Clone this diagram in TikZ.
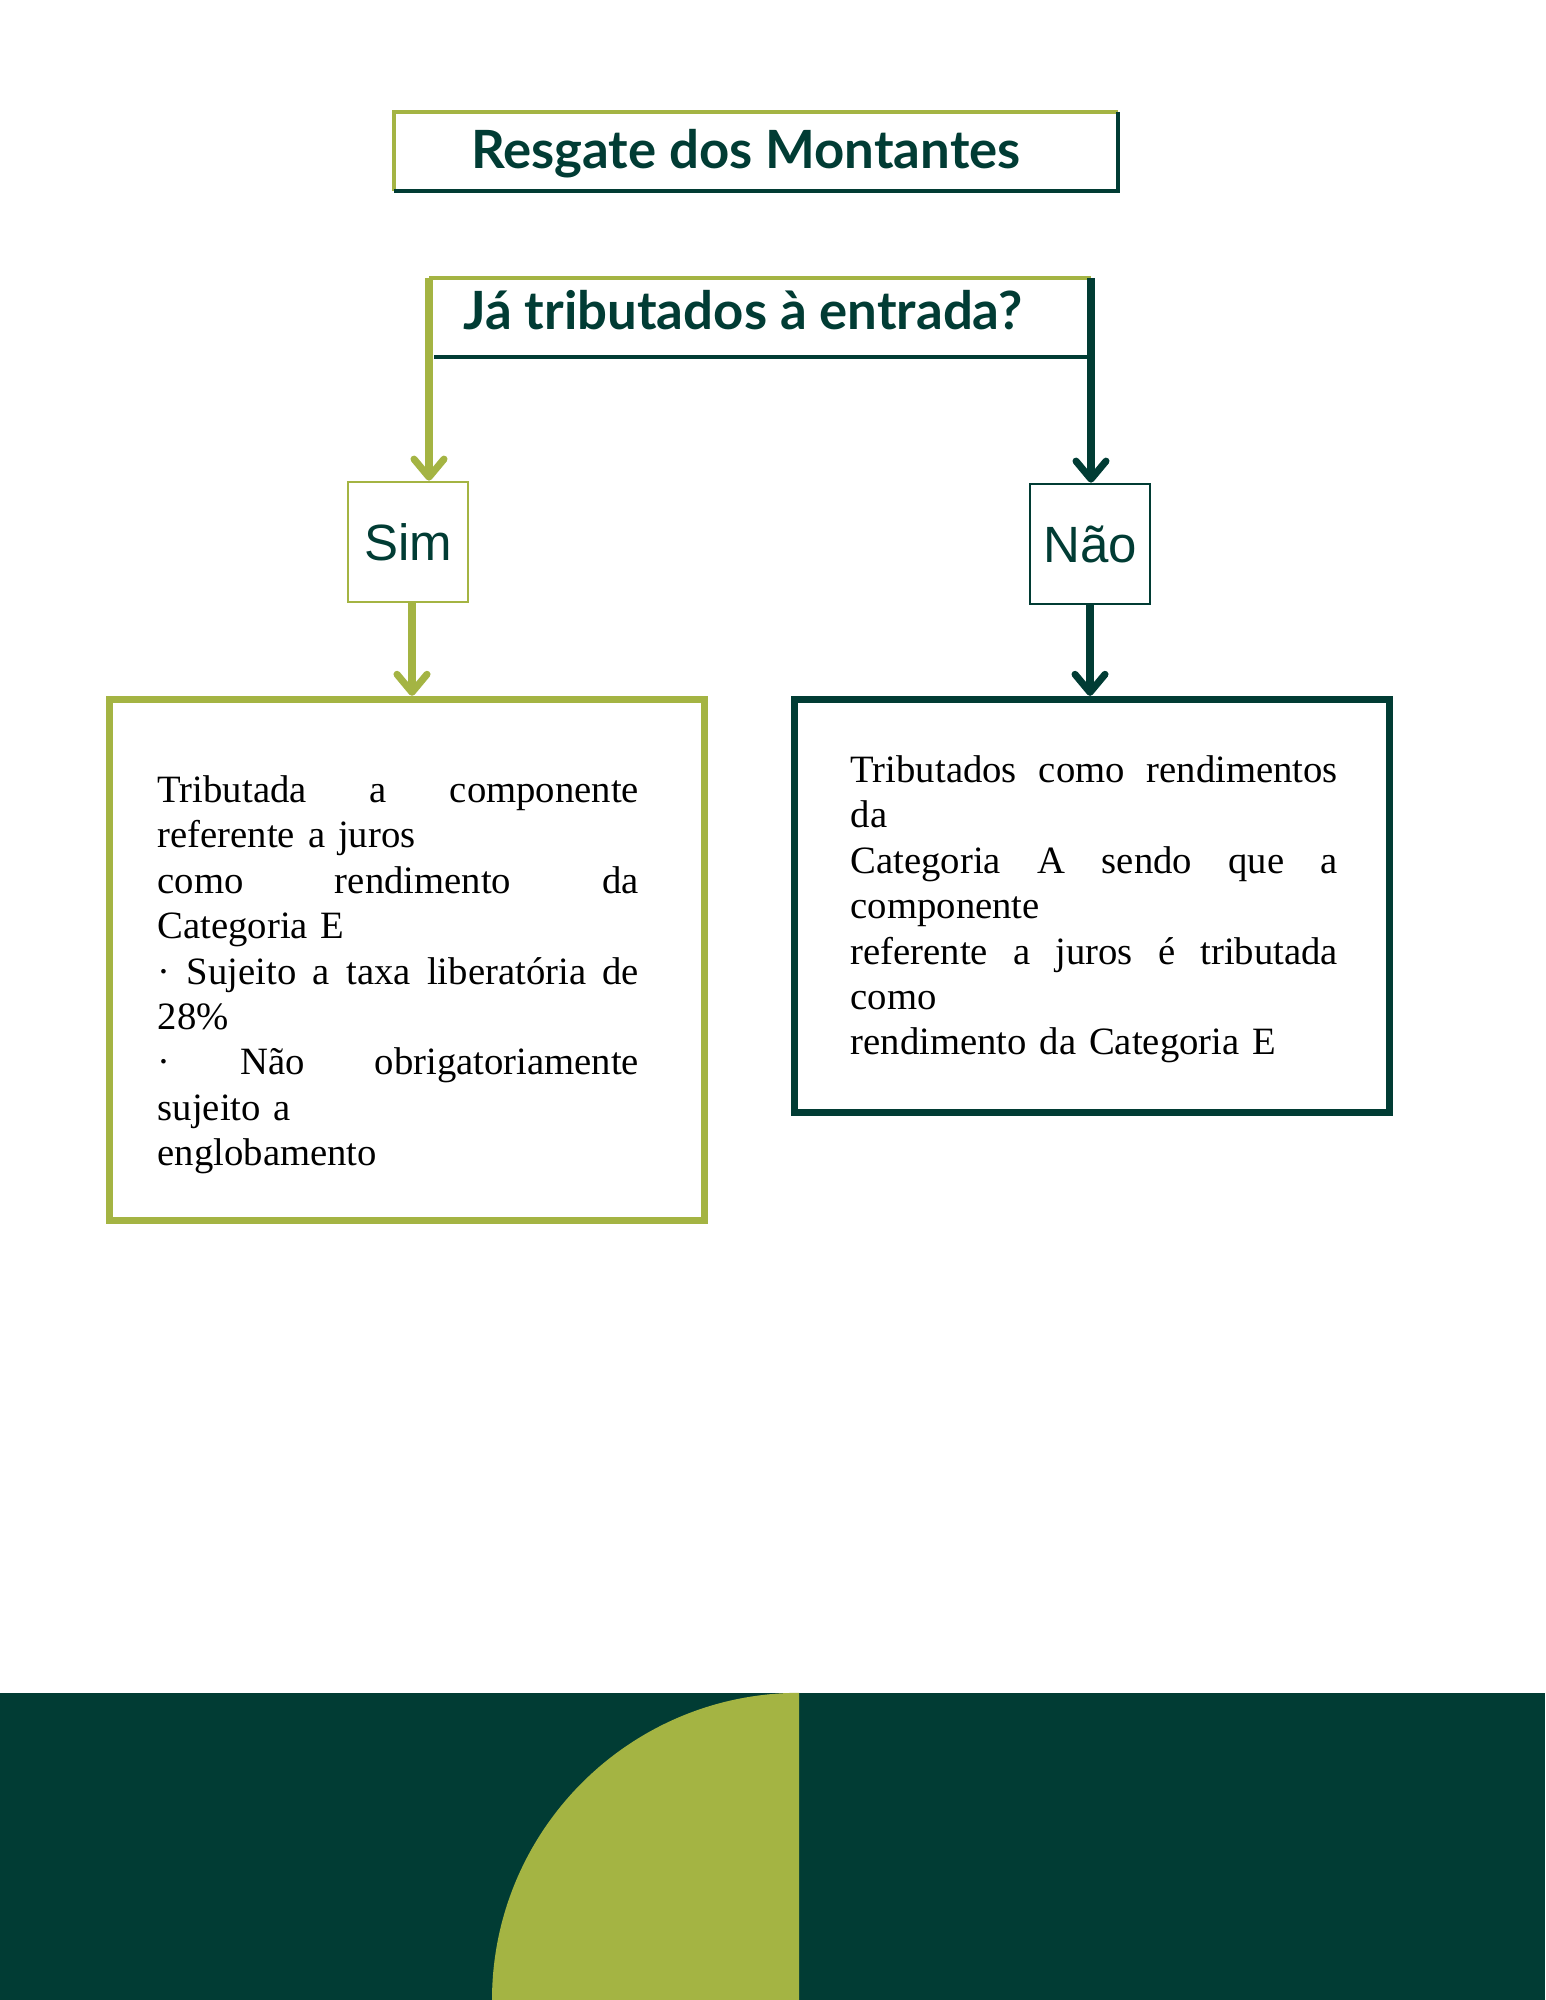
\documentclass[tikz,border=0pt]{standalone}
\usepackage{fontspec}
\setmainfont{Liberation Serif}
\newfontfamily\headfont{Lato}
\newfontfamily\labelfont{Liberation Sans}
\usetikzlibrary{arrows.meta}
\definecolor{pine}{HTML}{013C34}
\definecolor{leaf}{HTML}{A4B443}
\newcommand{\jl}[2][4.81cm]{\makebox[#1][s]{\spaceskip=0pt\xspaceskip=0pt #2}}
\tikzset{
  headtext/.style={font=\headfont\bfseries\fontsize{15}{18}\selectfont, text=pine, inner sep=0, anchor=base},
  answer/.style={draw=#1, line width=0.75pt, minimum width=1.2cm, minimum height=1.2cm, inner sep=0, text=pine, font=\labelfont\fontsize{14.5}{17}\selectfont},
  result/.style={draw=#1, line width=2pt, inner sep=0},
  body/.style={anchor=north west, inner sep=0, text width=#1, align=left, font=\fontsize{11}{12.9}\selectfont},
  flow/.style={draw=#1, line width=2pt, -{Straight Barb[length=1.8mm,width=3mm,round]}}
}
\begin{document}
\begin{tikzpicture}[x=0.01cm,y=-0.01cm]
  \useasboundingbox (0,0) rectangle (1545,2000);
  \fill[white] (0,0) rectangle (1545,2000);

  \node[headtext] (title) at (746,169) {Resgate dos Montantes};
  \draw[leaf, line width=1.3pt] (394,191) -- (394,112) -- (1118,112);
  \draw[pine, line width=1.3pt] (1118,112) -- (1118,191) -- (394,191);

  \node[headtext] (q) at (743,329) {Já tributados à entrada?};
  \coordinate (qleft) at (429,278);
  \coordinate (qright) at (1091,278);
  \draw[leaf, line width=1.1pt] (qleft) -- (qright);
  \draw[pine, line width=1.1pt] (434,357) -- (1088,357);

  \node[answer=leaf] (sim) at (408,542) {Sim};
  \node[answer=pine] (nao) at (1090,544) {Não};
  \node[result=leaf, minimum width=5.94cm, minimum height=5.21cm] (simres) at (407,960) {};
  \node[result=pine, minimum width=5.95cm, minimum height=4.13cm] (naores) at (1092,906) {};

  \draw[flow=leaf] (qleft) -- (qleft |- sim.north);
  \draw[flow=pine] (qright) -- (qright |- nao.north);
  \draw[flow=leaf] ([xshift=0.04cm]sim.south) -- ([xshift=0.04cm]sim.south |- simres.north);
  \draw[flow=pine] (nao.south) -- (nao.south |- naores.north);

  \node[body=4.81cm] (simtxt) at (157,775) {\jl{Tributada a componente}\\ referente a juros\\ \jl{como rendimento da}\\ Categoria E\\ \jl{· Sujeito a taxa liberatória de}\\ 28\%\\ \jl{· Não obrigatoriamente}\\ sujeito a\\ englobamento};
  \node[body=4.87cm] (naotxt) at (850,755) {\jl[4.87cm]{Tributados como rendimentos}\\ da\\ \jl[4.87cm]{Categoria A sendo que a}\\ componente\\ \jl[4.87cm]{referente a juros é tributada}\\ como\\ rendimento da Categoria E};

  \fill[pine] (0,1693) rectangle (1545,2000);
  \fill[leaf] (492,2000) arc[start angle=180, end angle=90, radius=3.07cm] -- (799,2000) -- cycle;
\end{tikzpicture}
\end{document}
